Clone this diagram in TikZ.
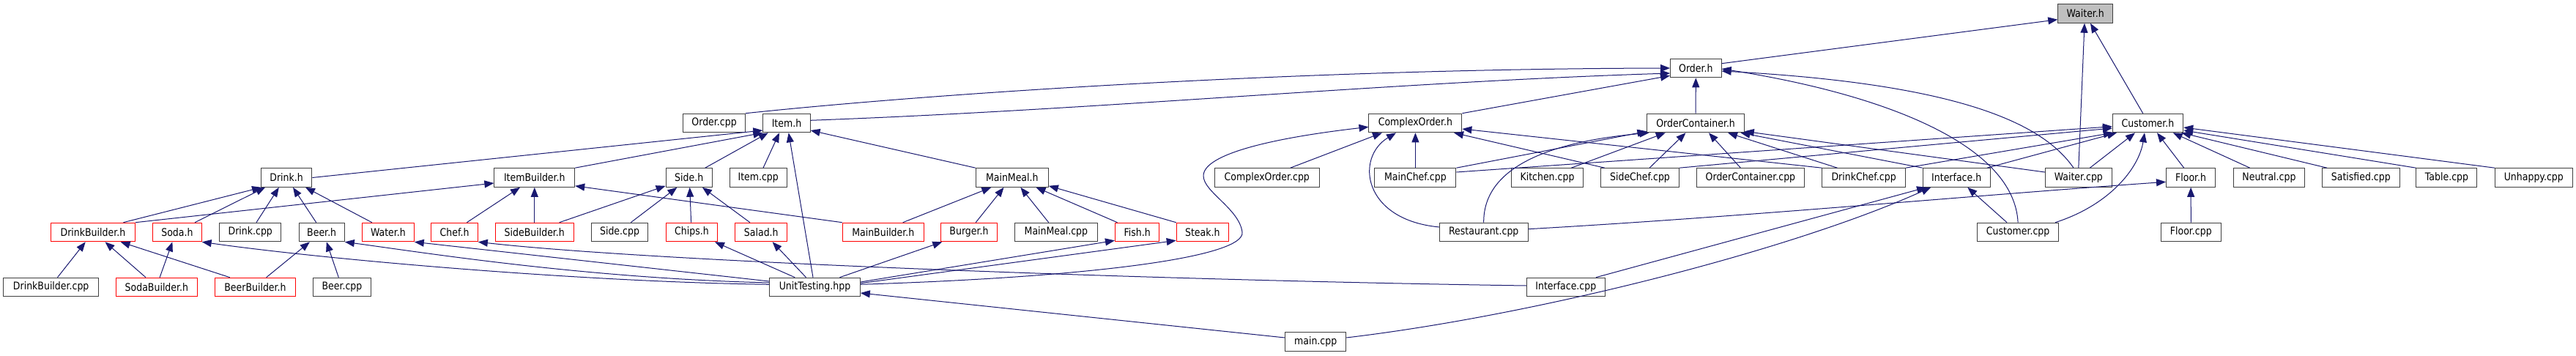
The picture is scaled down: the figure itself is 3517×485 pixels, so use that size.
\documentclass[tikz,border=0pt]{standalone}
\usepackage{fontspec}
\newfontfamily\dxf{DejaVu Sans}[FakeStretch=0.87]
\usetikzlibrary{arrows.meta}
\definecolor{midblue}{HTML}{191970}
\definecolor{boxgray}{HTML}{404040}
\definecolor{selgray}{HTML}{BFBFBF}
\tikzset{
  nd/.style={draw=boxgray, line width=1pt, minimum height=25.6pt, inner sep=0pt, fill=white, font=\dxf\fontsize{14.4}{17}\selectfont},
  rd/.style={nd, draw=red},
  gr/.style={nd, fill=selgray},
  edge/.style={draw=midblue, line width=1pt, -{Triangle[length=13pt,width=10pt]}}
}
\begin{document}
\begin{tikzpicture}[x=1pt,y=-1pt]
\fill[white] (0,0) rectangle (3517,485);
\useasboundingbox (0,0) rectangle (3517,485);
% rank 0
\node[gr, minimum width=75pt] (waiterh) at (2847.2,18.5) {Waiter.h};
% rank 1
\node[nd, minimum width=69.6pt] (orderh) at (2315.3,93) {Order.h};
% rank 2
\node[nd, minimum width=84.6pt] (ordercpp) at (975.1,168) {Order.cpp};
\node[nd, minimum width=64.3pt] (itemh) at (1074,168) {Item.h};
\node[nd, minimum width=126.9pt] (complexh) at (1932.4,168) {ComplexOrder.h};
\node[nd, minimum width=132.4pt] (ocontainerh) at (2315.1,168) {OrderContainer.h};
\node[nd, minimum width=96.4pt] (customerh) at (2932.5,168) {Customer.h};
% rank 3
\node[nd, minimum width=69.6pt] (drinkh) at (391.1,242.5) {Drink.h};
\node[nd, minimum width=109.8pt] (itembuilderh) at (729.8,242.5) {ItemBuilder.h};
\node[nd, minimum width=63.2pt] (sideh) at (940.7,242.5) {Side.h};
\node[nd, minimum width=78.4pt] (itemcpp) at (1035.2,242.5) {Item.cpp};
\node[nd, minimum width=99.1pt] (mainmealh) at (1381.8,242.5) {MainMeal.h};
\node[nd, minimum width=143pt] (complexcpp) at (1729.8,242.5) {ComplexOrder.cpp};
\node[nd, minimum width=111.1pt] (mainchefcpp) at (1932.4,242.5) {MainChef.cpp};
\node[nd, minimum width=98.9pt] (kitchencpp) at (2112.5,242.5) {Kitchen.cpp};
\node[nd, minimum width=106.8pt] (sidechefcpp) at (2239,242.5) {SideChef.cpp};
\node[nd, minimum width=146.7pt] (ocontainercpp) at (2389.9,242.5) {OrderContainer.cpp};
\node[nd, minimum width=113.7pt] (drinkchefcpp) at (2544.6,242.5) {DrinkChef.cpp};
\node[nd, minimum width=92.2pt] (interfaceh) at (2671.2,242.5) {Interface.h};
\node[nd, minimum width=91pt] (waitercpp) at (2837.8,242.5) {Waiter.cpp};
\node[nd, minimum width=67.2pt] (floorh) at (2991.1,242.5) {Floor.h};
\node[nd, minimum width=97.7pt] (neutralcpp) at (3097.9,242.5) {Neutral.cpp};
\node[nd, minimum width=105.4pt] (satisfiedcpp) at (3223.3,242.5) {Satisfied.cpp};
\node[nd, minimum width=83pt] (tablecpp) at (3340.4,242.5) {Table.cpp};
\node[nd, minimum width=105.9pt] (unhappycpp) at (3459.3,242.5) {Unhappy.cpp};
% rank 4
\node[rd, minimum width=115.2pt] (drinkbuilderh) at (126.9,317) {DrinkBuilder.h};
\node[rd, minimum width=66.6pt] (sodah) at (241.9,317) {Soda.h};
\node[nd, minimum width=84.2pt] (drinkcpp) at (341.8,317) {Drink.cpp};
\node[nd, minimum width=62.3pt] (beerh) at (439.2,317) {Beer.h};
\node[rd, minimum width=70.9pt] (waterh) at (529.9,317) {Water.h};
\node[rd, minimum width=63.5pt] (chefh) at (620.6,317) {Chef.h};
\node[rd, minimum width=106.8pt] (sidebuilderh) at (729.8,317) {SideBuilder.h};
\node[nd, minimum width=77.3pt] (sidecpp) at (846,317) {Side.cpp};
\node[rd, minimum width=70.8pt] (chipsh) at (944.5,317) {Chips.h};
\node[rd, minimum width=71.1pt] (saladh) at (1039.3,317) {Salad.h};
\node[rd, minimum width=111.2pt] (mainbuilderh) at (1205.8,317) {MainBuilder.h};
\node[rd, minimum width=76.5pt] (burgerh) at (1323,317) {Burger.h};
\node[nd, minimum width=113.7pt] (mainmealcpp) at (1441.9,317) {MainMeal.cpp};
\node[rd, minimum width=60.5pt] (fishh) at (1552.7,317) {Fish.h};
\node[rd, minimum width=71.2pt] (steakh) at (1641.8,317) {Steak.h};
\node[nd, minimum width=120.6pt] (restaurantcpp) at (2025.7,317) {Restaurant.cpp};
\node[nd, minimum width=110.8pt] (customercpp) at (2755.1,317) {Customer.cpp};
\node[nd, minimum width=82pt] (floorcpp) at (2991.3,317) {Floor.cpp};
% rank 5
\node[nd, minimum width=130.1pt] (drinkbuildercpp) at (69.7,392) {DrinkBuilder.cpp};
\node[rd, minimum width=111pt] (sodabuilderh) at (213.9,392) {SodaBuilder.h};
\node[rd, minimum width=109.9pt] (beerbuilderh) at (348.5,392) {BeerBuilder.h};
\node[nd, minimum width=78.8pt] (beercpp) at (466.9,392) {Beer.cpp};
\node[nd, minimum width=123.6pt] (unittesting) at (1112.5,392) {UnitTesting.hpp};
\node[nd, minimum width=106.8pt] (interfacecpp) at (2137.8,392) {Interface.cpp};
% rank 6
\node[nd, minimum width=83.1pt] (maincpp) at (1796.2,466.5) {main.cpp};

% edges
\draw[edge] ([xshift=41.5pt]drinkbuilderh.north) -- ([xshift=-34pt]drinkh.south);
\draw[edge] ([xshift=24.1pt]sodah.north) -- ([xshift=-29pt]drinkh.south);
\draw[edge] ([xshift=8.2pt]drinkcpp.north) -- ([xshift=-10.3pt]drinkh.south);
\draw[edge] ([xshift=-7.5pt]beerh.north) -- ([xshift=8.9pt]drinkh.south);
\draw[edge] ([xshift=-22.1pt]waterh.north) -- ([xshift=25.9pt]drinkh.south);
\draw[edge] (drinkbuilderh.north east) -- ([yshift=-7.5pt]itembuilderh.west);
\draw[edge] (drinkh.east) -- ([yshift=-10pt]itemh.west);
\draw[edge] (itembuilderh.north east) -- (itemh.south west);
\draw[edge] ([xshift=22pt]sideh.north) -- ([xshift=-25.2pt]itemh.south);
\draw[edge] ([xshift=6.8pt]itemcpp.north) -- ([xshift=-10pt]itemh.south);
\draw[edge] ([xshift=-2.5pt]unittesting.north) -- ([xshift=2.7pt]itemh.south);
\draw[edge] (mainmealh.north west) -- ([yshift=-10pt]itemh.east);
\draw[edge] (ordercpp.north east) .. controls (1300,125) and (1800,94) .. (orderh.west);
\draw[edge] ([yshift=3.7pt]itemh.east) .. controls (1500,150) and (1900,112) .. ([yshift=-7pt]orderh.west);
\draw[edge] (complexh.north east) -- ([yshift=3pt]orderh.south west);
\draw[edge] (ocontainerh.north) -- (orderh.south);
\draw[edge] ([xshift=-6.8pt]waitercpp.north) .. controls (2790,170) and (2680,115) .. ([yshift=-4pt]orderh.east);
\draw[edge] (customercpp.north) .. controls (2750,200) and (2580,130) .. ([yshift=-1pt]orderh.east);
\draw[edge] ([yshift=6.3pt]orderh.east) -- ([yshift=-8.2pt]waiterh.west);
\draw[edge] (waitercpp.north) -- ([xshift=-1.2pt]waiterh.south);
\draw[edge] ([xshift=-6.8pt]customerh.north) -- ([xshift=6.8pt]waiterh.south);
\draw[edge] ([yshift=7.5pt]mainchefcpp.east) -- ([yshift=-4.7pt]customerh.west);
\draw[edge] (sidechefcpp.north east) -- ([yshift=-7pt]customerh.west);
\draw[edge] (drinkchefcpp.north east) -- ([xshift=1pt]customerh.south west);
\draw[edge] ([xshift=41.8pt]interfaceh.north) -- ([xshift=-42.5pt]customerh.south);
\draw[edge] ([xshift=15.5pt]waitercpp.north) -- ([xshift=-17.5pt]customerh.south);
\draw[edge] ([xshift=50.9pt]customercpp.north) .. controls (2880,280) and (2920,230) .. ([xshift=-4.5pt]customerh.south);
\draw[edge] ([xshift=-9.4pt]floorh.north) -- ([xshift=12.5pt]customerh.south);
\draw[edge] ([xshift=-26.2pt]neutralcpp.north) -- ([xshift=34.2pt]customerh.south);
\draw[edge] ([xshift=-46.3pt]satisfiedcpp.north) -- ([xshift=-3pt]customerh.south east);
\draw[edge] (tablecpp.north west) -- ([yshift=-10pt]customerh.east);
\draw[edge] (unhappycpp.north west) -- ([yshift=-6pt]customerh.east);
\draw[edge] ([yshift=3.7pt]unittesting.east) .. controls (1500,378) and (1700,350) .. (1696,317) .. controls (1692,285) and (1643,262) .. (1643,240) .. controls (1643,210) and (1740,188) .. ([yshift=-5.3pt]complexh.west);
\draw[edge] ([xshift=31.9pt]complexcpp.north) -- ([xshift=-45.4pt]complexh.south);
\draw[edge] (mainchefcpp.north) -- (complexh.south);
\draw[edge] ([yshift=7pt]restaurantcpp.west) .. controls (1860,300) and (1850,215) .. ([xshift=-26.4pt]complexh.south);
\draw[edge] ([xshift=-48.2pt]sidechefcpp.north) -- ([xshift=52.6pt]complexh.south);
\draw[edge] (drinkchefcpp.north west) -- ([yshift=-8pt]complexh.east);
\draw[edge] (mainchefcpp.north east) -- ([yshift=2pt]ocontainerh.south west);
\draw[edge] (restaurantcpp.north) .. controls (2025,235) and (2100,195) .. ([xshift=3pt]ocontainerh.south west);
\draw[edge] ([xshift=32.8pt]kitchencpp.north) -- ([xshift=-41.3pt]ocontainerh.south);
\draw[edge] ([xshift=13pt]sidechefcpp.north) -- ([xshift=-13.6pt]ocontainerh.south);
\draw[edge] ([xshift=-13.5pt]ocontainercpp.north) -- ([xshift=17.9pt]ocontainerh.south);
\draw[edge] ([xshift=-36.2pt]drinkchefcpp.north) -- ([xshift=43.9pt]ocontainerh.south);
\draw[edge] (interfaceh.north west) -- ([xshift=61.3pt]ocontainerh.south);
\draw[edge] ([yshift=7.5pt]waitercpp.west) -- ([yshift=2pt]ocontainerh.south east);
\draw[edge] ([xshift=41.1pt]interfacecpp.north) -- ([xshift=-41.2pt]interfaceh.south);
\draw[edge] ([yshift=5.5pt]maincpp.east) .. controls (2100,430) and (2450,340) .. ([xshift=-35pt]interfaceh.south);
\draw[edge] ([xshift=-15.1pt]customercpp.north) -- ([xshift=15.1pt]interfaceh.south);
\draw[edge] ([yshift=4.3pt]restaurantcpp.east) .. controls (2380,296) and (2680,268) .. ([yshift=-5.8pt]floorh.west);
\draw[edge] (floorcpp.north) -- (floorh.south);
\draw[edge] ([yshift=3.7pt]unittesting.west) .. controls (800,385) and (450,355) .. (sodah.south east);
\draw[edge] ([yshift=6pt]unittesting.west) .. controls (800,380) and (580,345) .. (beerh.south east);
\draw[edge] ([yshift=8pt]unittesting.west) -- (waterh.south east);
\draw[edge] ([xshift=-27.3pt]unittesting.north) -- ([xshift=31.5pt]chipsh.south);
\draw[edge] ([xshift=-12pt]unittesting.north) -- ([xshift=15.3pt]saladh.south);
\draw[edge] ([xshift=33.9pt]unittesting.north) -- ([xshift=-36.7pt]burgerh.south);
\draw[edge] ([yshift=7pt]unittesting.east) -- ([yshift=2pt]fishh.south west);
\draw[edge] ([yshift=5.3pt]unittesting.east) -- ([yshift=2pt]steakh.south west);
\draw[edge] ([yshift=5.5pt]maincpp.west) -- ([yshift=-8pt]unittesting.east);
\draw[edge] ([yshift=2pt]interfacecpp.west) .. controls (1600,383) and (900,358) .. (chefh.south east);
\draw[edge] ([xshift=16.8pt]chefh.north) -- ([xshift=-19.8pt]itembuilderh.south);
\draw[edge] (sidebuilderh.north) -- (itembuilderh.south);
\draw[edge] (mainbuilderh.north west) -- ([yshift=2pt]itembuilderh.south east);
\draw[edge] ([xshift=33.9pt]sidebuilderh.north) -- ([yshift=2pt]sideh.south west);
\draw[edge] ([xshift=15.3pt]sidecpp.north) -- ([xshift=-16.3pt]sideh.south);
\draw[edge] ([xshift=-0.9pt]chipsh.north) -- ([xshift=1pt]sideh.south);
\draw[edge] ([xshift=-15.4pt]saladh.north) -- ([xshift=18.2pt]sideh.south);
\draw[edge] ([xshift=26.9pt]mainbuilderh.north) -- ([xshift=-28.5pt]mainmealh.south);
\draw[edge] ([xshift=9.2pt]burgerh.north) -- ([xshift=-11.3pt]mainmealh.south);
\draw[edge] ([xshift=-10.2pt]mainmealcpp.north) -- ([xshift=11.6pt]mainmealh.south);
\draw[edge] ([xshift=-27.2pt]fishh.north) -- ([xshift=32.7pt]mainmealh.south);
\draw[edge] (steakh.north west) -- ([yshift=2pt]mainmealh.south east);
\draw[edge] ([xshift=8.8pt]drinkbuildercpp.north) -- ([xshift=-10.2pt]drinkbuilderh.south);
\draw[edge] ([xshift=-14.9pt]sodabuilderh.north) -- ([xshift=16.6pt]drinkbuilderh.south);
\draw[edge] ([xshift=-34.7pt]beerbuilderh.north) -- ([xshift=37.7pt]drinkbuilderh.south);
\draw[edge] ([xshift=4.2pt]sodabuilderh.north) -- ([xshift=-6.5pt]sodah.south);
\draw[edge] ([xshift=15.1pt]beerbuilderh.north) -- ([xshift=-16.3pt]beerh.south);
\draw[edge] ([xshift=-4.6pt]beercpp.north) -- ([xshift=6.6pt]beerh.south);
\end{tikzpicture}
\end{document}
